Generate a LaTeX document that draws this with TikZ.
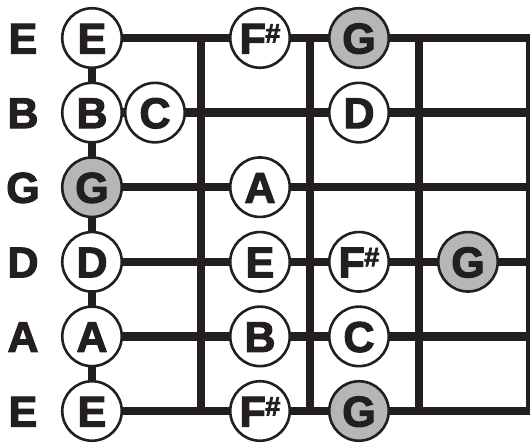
\documentclass[tikz,border=0pt]{standalone}
\usepackage{fontspec}
\newfontfamily\heavy[FakeBold=2.6]{Liberation Sans Bold}
\definecolor{ink}{RGB}{35,31,32}
\definecolor{rootgray}{RGB}{180,182,184}
\newcommand{\sharpnote}[1]{#1\kern-0.5pt\raisebox{11pt}{\fontsize{27}{27}\selectfont\#}}
\begin{document}
\begin{tikzpicture}[x=1pt,y=-1pt,
  wire/.style={draw=ink,line width=8.5pt},
  note/.style={circle,draw=ink,line width=2.6pt,fill=white,minimum size=59.5pt,inner sep=0pt,
    text=ink,font=\heavy\fontsize{43}{43}\selectfont,text height=31pt,text depth=0pt},
  rootnote/.style={note,fill=rootgray},
  lab/.style={inner sep=0pt,text=ink,font=\heavy\fontsize{43}{43}\selectfont,text height=31pt,text depth=0pt}]
\useasboundingbox (0,0) rectangle (530,443);
% string coordinates
\coordinate (s1L) at (92,38);    \coordinate (s1R) at (530,38);
\coordinate (s2L) at (92,112.6); \coordinate (s2R) at (530,112.6);
\coordinate (s3L) at (92,187.2); \coordinate (s3R) at (530,187.2);
\coordinate (s4L) at (92,261.8); \coordinate (s4R) at (530,261.8);
\coordinate (s5L) at (92,336.4); \coordinate (s5R) at (530,336.4);
\coordinate (s6L) at (92,411);   \coordinate (s6R) at (530,411);
% fret coordinates
\coordinate (f1T) at (201,38); \coordinate (f1B) at (201,411);
\coordinate (f2T) at (310,38); \coordinate (f2B) at (310,411);
\coordinate (f3T) at (419,38); \coordinate (f3B) at (419,411);
\coordinate (f4T) at (530,38); \coordinate (f4B) at (530,411);
% strings
\foreach \i in {1,...,6} \draw[wire] (s\i L) -- (s\i R);
% nut and frets
\draw[wire] (s1L) -- (s6L);
\foreach \i in {1,...,4} \draw[wire] (f\i T) -- (f\i B);
% string names
\node[lab] (l1) at (23,38) {E};
\node[lab] (l2) at (23,112.6) {B};
\node[lab] (l3) at (23,187.2) {G};
\node[lab] (l4) at (23,261.8) {D};
\node[lab] (l5) at (23,336.4) {A};
\node[lab] (l6) at (23,411) {E};
% open strings
\node[note] (o1) at (92,38) {E};
\node[note] (o2) at (92,112.6) {B};
\node[rootnote] (o3) at (92,187.2) {G};
\node[note] (o4) at (92,261.8) {D};
\node[note] (o5) at (92,336.4) {A};
\node[note] (o6) at (92,411) {E};
% first fret
\node[note] (c2) at (155,112.6) {C};
% second fret
\node[note] (a1) at (260,38) {\sharpnote{F}};
\node[note] (a3) at (260,187.2) {A};
\node[note] (a4) at (260,261.8) {E};
\node[note] (a5) at (260,336.4) {B};
\node[note] (a6) at (260,411) {\sharpnote{F}};
% third fret
\node[rootnote] (b1) at (359,38) {G};
\node[note] (b2) at (359,112.6) {D};
\node[note] (b4) at (359,261.8) {\sharpnote{F}};
\node[note] (b5) at (359,336.4) {C};
\node[rootnote] (b6) at (359,411) {G};
% fourth fret
\node[rootnote] (d4) at (468,261.8) {G};
\end{tikzpicture}
\end{document}
